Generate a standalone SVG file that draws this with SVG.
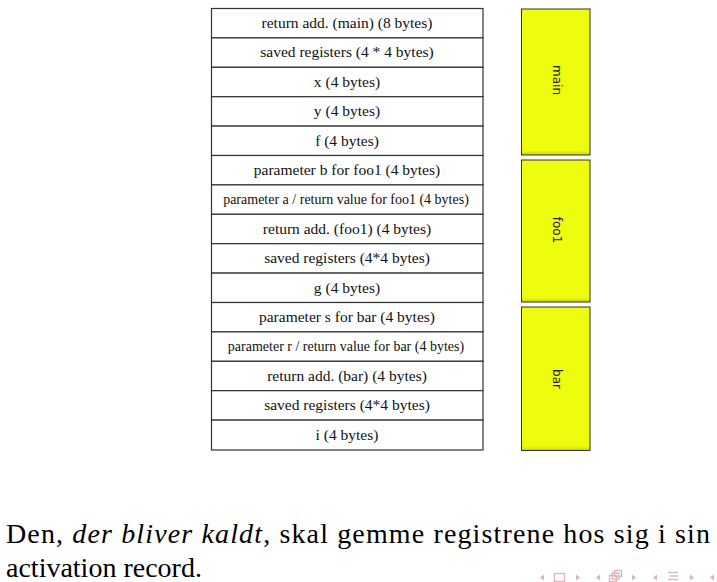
<svg xmlns="http://www.w3.org/2000/svg" width="717" height="582" viewBox="0 0 717 582">
<defs>
<style>
.cell{fill:#fff;stroke:#333;stroke-width:1.2}
.t{font-size:15.5px;fill:#111;text-anchor:middle}
.ts{font-size:14px;fill:#111;text-anchor:middle}
.box{stroke:#333;stroke-width:1}
.bl{font-size:12px;fill:#222;text-anchor:middle}
.body{font-size:28px;fill:#000}
.nav{fill:#dcb4b4}
.navs{fill:none;stroke:#dcb4b4;stroke-width:1.3}
</style>
<linearGradient id="sh" x1="0" y1="0" x2="0" y2="1">
<stop offset="0" stop-color="#eefc0e"/>
<stop offset="0.97" stop-color="#eefc0e"/>
<stop offset="1" stop-color="#c8d010"/>
</linearGradient>
</defs>
<g id="stack" font-family="'Liberation Serif', 'Times New Roman', Times, 'DejaVu Serif', 'Noto Serif', serif">
<g id="r1"><rect class="cell" x="211.5" y="8.5" width="271.5" height="29.4"/><text class="t" x="347" y="28">return add. (main) (8 bytes)</text></g>
<g id="r2"><rect class="cell" x="211.5" y="37.9" width="271.5" height="29.4"/><text class="t" x="347" y="57.4">saved registers (4 * 4 bytes)</text></g>
<g id="r3"><rect class="cell" x="211.5" y="67.3" width="271.5" height="29.4"/><text class="t" x="347" y="86.8">x (4 bytes)</text></g>
<g id="r4"><rect class="cell" x="211.5" y="96.7" width="271.5" height="29.4"/><text class="t" x="347" y="116.2">y (4 bytes)</text></g>
<g id="r5"><rect class="cell" x="211.5" y="126.1" width="271.5" height="29.4"/><text class="t" x="347" y="145.6">f (4 bytes)</text></g>
<g id="r6"><rect class="cell" x="211.5" y="155.5" width="271.5" height="29.4"/><text class="t" x="347" y="175">parameter b for foo1 (4 bytes)</text></g>
<g id="r7"><rect class="cell" x="211.5" y="184.9" width="271.5" height="29.4"/><text class="ts" x="346" y="204">parameter a / return value for foo1 (4 bytes)</text></g>
<g id="r8"><rect class="cell" x="211.5" y="214.3" width="271.5" height="29.4"/><text class="t" x="347" y="233.8">return add. (foo1) (4 bytes)</text></g>
<g id="r9"><rect class="cell" x="211.5" y="243.7" width="271.5" height="29.4"/><text class="t" x="347" y="263.2">saved registers (4*4 bytes)</text></g>
<g id="r10"><rect class="cell" x="211.5" y="273.1" width="271.5" height="29.4"/><text class="t" x="347" y="292.6">g (4 bytes)</text></g>
<g id="r11"><rect class="cell" x="211.5" y="302.5" width="271.5" height="29.4"/><text class="t" x="347" y="322">parameter s for bar (4 bytes)</text></g>
<g id="r12"><rect class="cell" x="211.5" y="331.9" width="271.5" height="29.4"/><text class="ts" x="346" y="351">parameter r / return value for bar (4 bytes)</text></g>
<g id="r13"><rect class="cell" x="211.5" y="361.3" width="271.5" height="29.4"/><text class="t" x="347" y="380.8">return add. (bar) (4 bytes)</text></g>
<g id="r14"><rect class="cell" x="211.5" y="390.7" width="271.5" height="29.4"/><text class="t" x="347" y="410.2">saved registers (4*4 bytes)</text></g>
<g id="r15"><rect class="cell" x="211.5" y="420.1" width="271.5" height="29.9"/><text class="t" x="347" y="439.6">i (4 bytes)</text></g>
</g>
<g font-family="'DejaVu Sans', 'Liberation Sans', sans-serif">
<g id="main"><rect class="box" style="fill:url(#sh)" x="521.5" y="9" width="68.5" height="146"/><text class="bl" transform="translate(557,80) rotate(90)" y="4">main</text></g>
<g id="foo1"><rect class="box" style="fill:url(#sh)" x="521.5" y="160" width="68.5" height="142"/><text class="bl" transform="translate(557,230) rotate(90)" y="4">foo1</text></g>
<g id="bar"><rect class="box" style="fill:url(#sh)" x="521.5" y="307" width="68.5" height="143.5"/><text class="bl" transform="translate(557,379) rotate(90)" y="4">bar</text></g>
</g>
<g id="connectors"></g>
<g id="caption" font-family="'Liberation Serif', 'Times New Roman', Times, 'DejaVu Serif', 'Noto Serif', serif">
<text class="body" x="6" y="542.5" textLength="704" lengthAdjust="spacing">Den, <tspan font-style="italic">der bliver kaldt</tspan>, skal gemme registrene hos sig i sin</text>
<text class="body" x="6" y="576.5">activation record.</text>
</g>
<g id="navsym">
<polygon class="nav" points="544,574.5 544,580.5 540,577.5"/>
<rect class="navs" x="554.5" y="573.5" width="10" height="8"/>
<polygon class="nav" points="576,574.5 576,580.5 580,577.5"/>
<polygon class="nav" points="600,574.5 600,580.5 596,577.5"/>
<rect class="navs" x="609.5" y="575.5" width="7" height="6"/>
<rect class="navs" x="612" y="573" width="7" height="6"/>
<rect class="navs" x="614.5" y="570.5" width="7" height="6"/>
<polygon class="nav" points="632,574.5 632,580.5 636,577.5"/>
<polygon class="nav" points="657,574.5 657,580.5 653,577.5"/>
<line class="navs" x1="668" y1="572.5" x2="678" y2="572.5"/>
<line class="navs" x1="670" y1="576" x2="678" y2="576"/>
<line class="navs" x1="668" y1="579.5" x2="678" y2="579.5"/>
<polygon class="nav" points="690,574.5 690,580.5 694,577.5"/>
<polygon class="nav" points="714,574.5 714,580.5 710,577.5"/>
</g>
</svg>
